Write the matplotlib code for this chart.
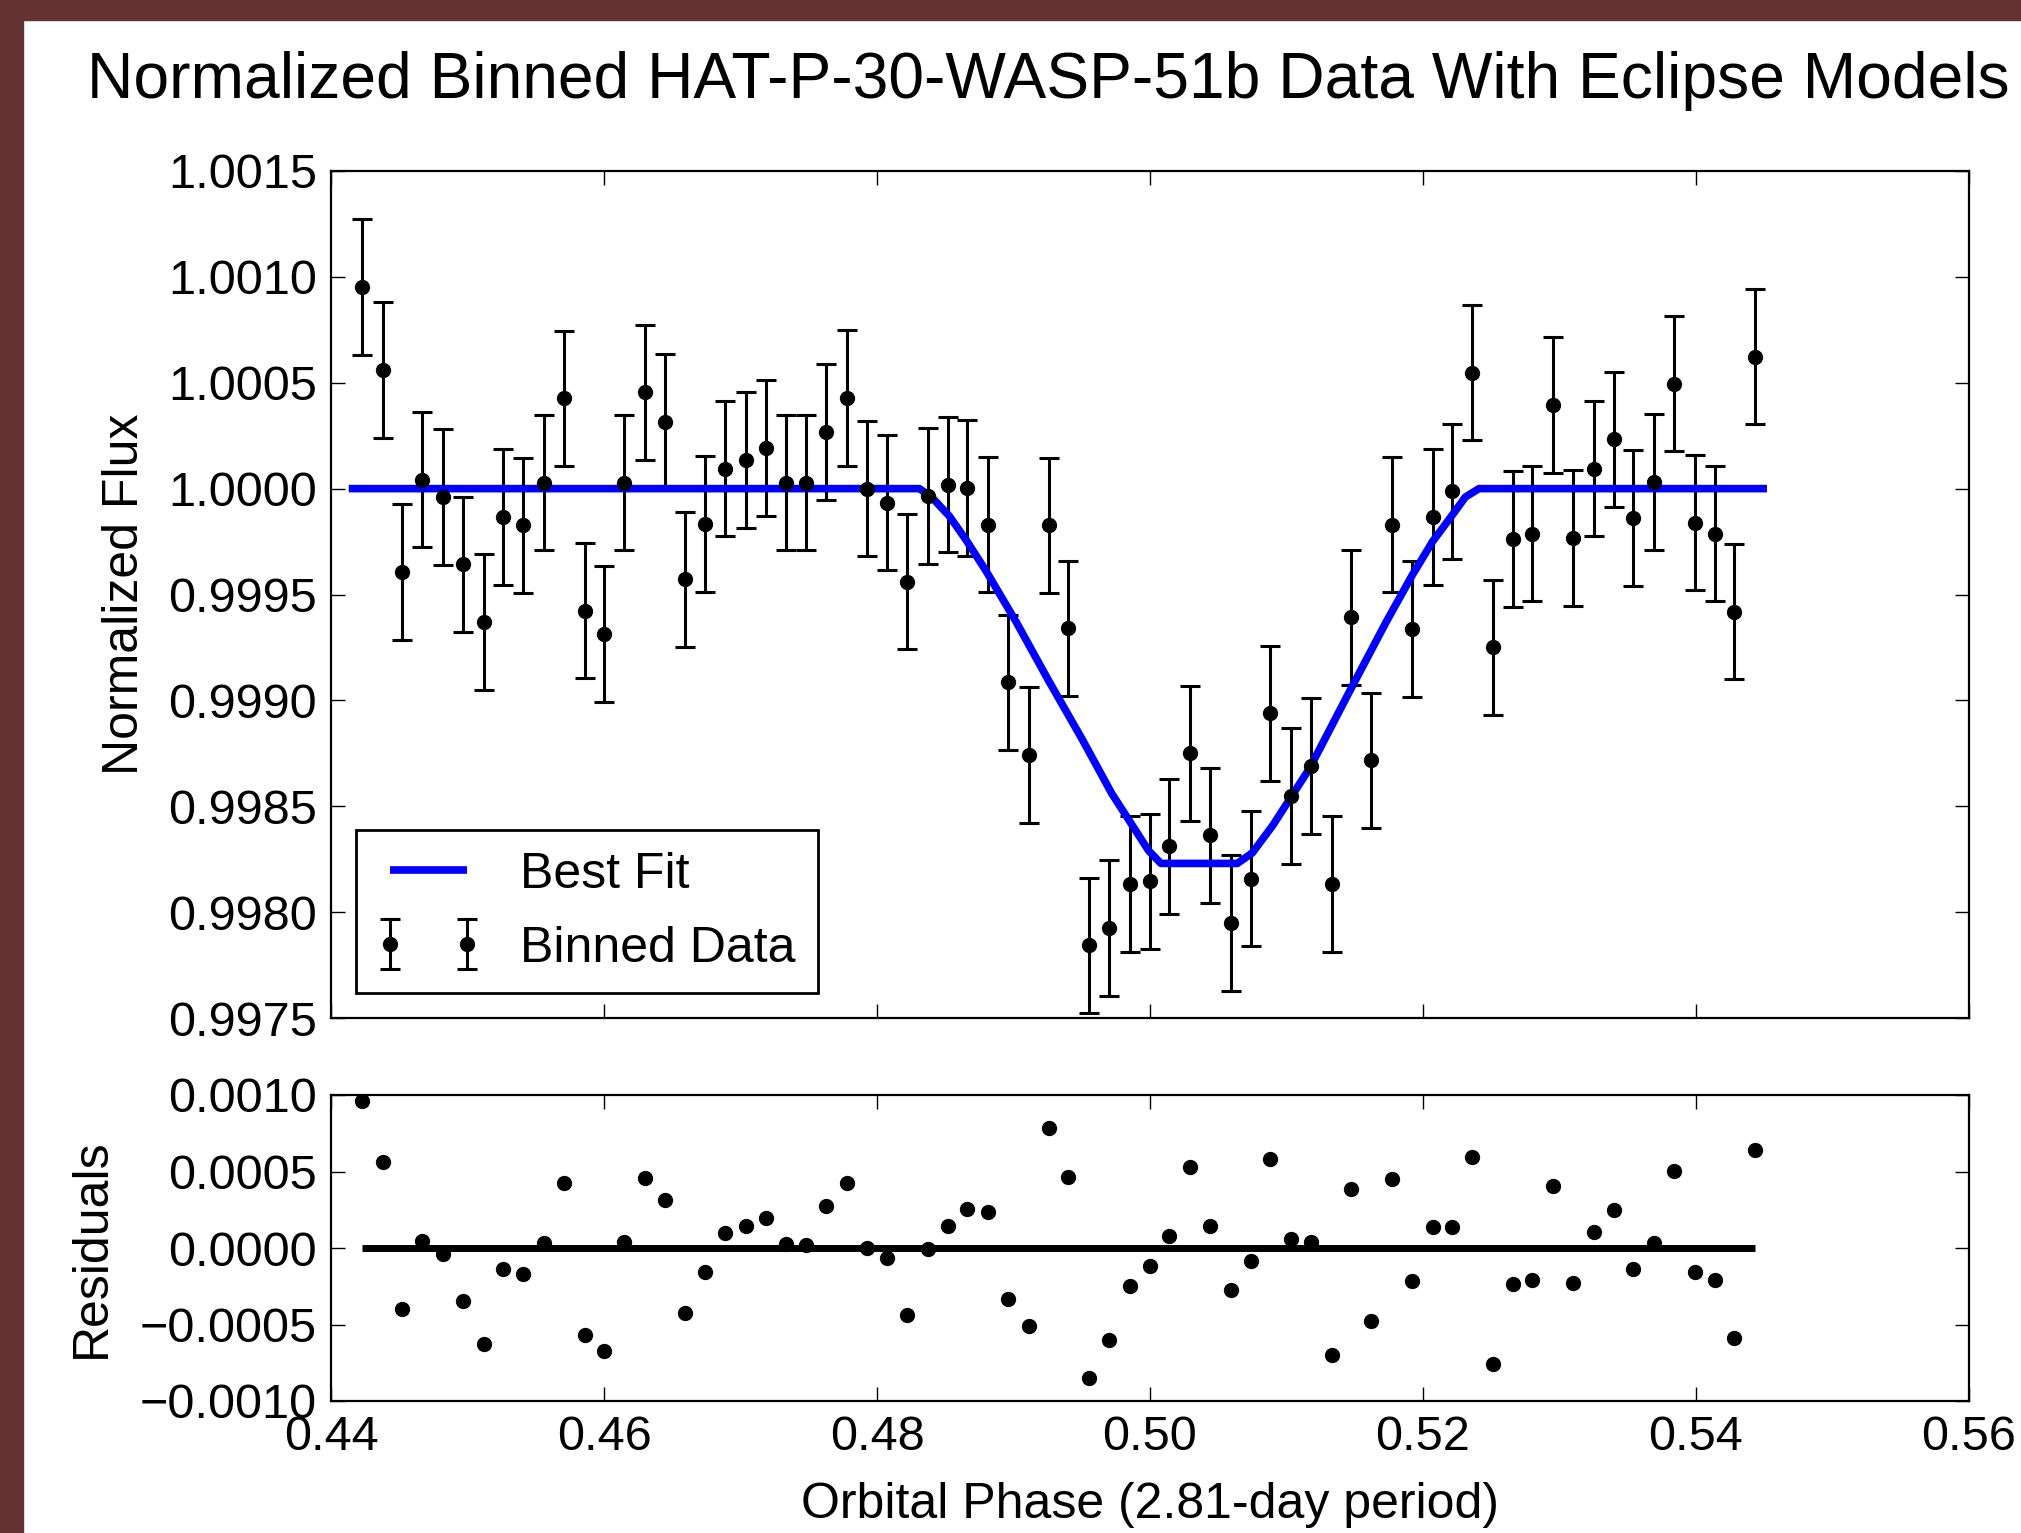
import matplotlib
matplotlib.use("Agg")
import matplotlib.pyplot as plt
from matplotlib.patches import Rectangle
from matplotlib.ticker import FuncFormatter, MultipleLocator
from matplotlib.legend_handler import HandlerErrorbar, HandlerLine2D


# binned phase centres
phase = [0.4423, 0.4438, 0.4452, 0.4467, 0.4482, 0.4497, 0.4512, 0.4526, 0.4541, 0.4556,
         0.4571, 0.4586, 0.4600, 0.4615, 0.4630, 0.4645, 0.4659, 0.4674, 0.4689, 0.4704,
         0.4719, 0.4733, 0.4748, 0.4763, 0.4778, 0.4793, 0.4807, 0.4822, 0.4837, 0.4852,
         0.4866, 0.4881, 0.4896, 0.4911, 0.4926, 0.4940, 0.4955, 0.4970, 0.4985, 0.5000,
         0.5014, 0.5029, 0.5044, 0.5059, 0.5074, 0.5088, 0.5103, 0.5118, 0.5133, 0.5147,
         0.5162, 0.5177, 0.5192, 0.5207, 0.5221, 0.5236, 0.5251, 0.5266, 0.5280, 0.5295,
         0.5310, 0.5325, 0.5340, 0.5354, 0.5369, 0.5384, 0.5399, 0.5414, 0.5428, 0.5443]

flux = [1.000953, 1.000559, 0.999606, 1.000043, 0.999961, 0.999642, 0.999369, 0.999866, 0.999826, 1.000028,
        1.000426, 0.999424, 0.999313, 1.000028, 1.000455, 1.000316, 0.999571, 0.999834, 1.000095, 1.000134,
        1.000193, 1.000028, 1.000028, 1.000268, 1.000429, 1.000000, 0.999934, 0.999561, 0.999964, 1.000019,
        1.000003, 0.999830, 0.999085, 0.998742, 0.999826, 0.999340, 0.997843, 0.997925, 0.998134, 0.998145,
        0.998310, 0.998750, 0.998362, 0.997948, 0.998158, 0.998939, 0.998548, 0.998690, 0.998134, 0.999392,
        0.998717, 0.999830, 0.999337, 0.999866, 0.999987, 1.000548, 0.999250, 0.999763, 0.999787, 1.000395,
        0.999766, 1.000095, 1.000232, 0.999861, 1.000032, 1.000496, 0.999839, 0.999787, 0.999419, 1.000623]

flux_err = 0.00032

residuals = [0.000961, 0.000561, -0.000396, 0.000044, -0.000041, -0.000346, -0.000628, -0.000135, -0.000172, 0.000033,
             0.000424, -0.000570, -0.000674, 0.000039, 0.000457, 0.000311, -0.000424, -0.000157, 0.000100, 0.000146,
             0.000196, 0.000026, 0.000022, 0.000272, 0.000426, 0.000000, -0.000063, -0.000435, -0.000004, 0.000141,
             0.000257, 0.000235, -0.000335, -0.000507, 0.000785, 0.000467, -0.000852, -0.000602, -0.000246, -0.000117,
             0.000078, 0.000528, 0.000143, -0.000276, -0.000085, 0.000580, 0.000061, 0.000039, -0.000700, 0.000385,
             -0.000474, 0.000450, -0.000217, 0.000139, 0.000139, 0.000593, -0.000761, -0.000235, -0.000207, 0.000402,
             -0.000228, 0.000104, 0.000250, -0.000139, 0.000030, 0.000504, -0.000157, -0.000211, -0.000585, 0.000641]

# best-fit eclipse model
model_phase = [0.4413, 0.4831, 0.4840, 0.4853, 0.4865, 0.4880, 0.4902, 0.4926, 0.4950, 0.4972,
               0.4987, 0.4999, 0.5008, 0.5064, 0.5075, 0.5090, 0.5117, 0.5146, 0.5173, 0.5192,
               0.5207, 0.5222, 0.5231, 0.5241, 0.5452]
model_flux = [1.0, 1.0, 0.99996, 0.99987, 0.99976, 0.99961, 0.99937, 0.99909, 0.99882, 0.99856,
              0.99841, 0.99829, 0.99823, 0.99823, 0.99828, 0.99841, 0.99868, 0.99904, 0.99937, 0.99959,
              0.99975, 0.99988, 0.99996, 1.0, 1.0]

x_ticks = [0.44, 0.46, 0.48, 0.50, 0.52, 0.54, 0.56]

plt.rcParams["font.family"] = ["Liberation Sans", "DejaVu Sans"]

W, H = 2021, 1533
fig = plt.figure(figsize=(W / 100, H / 100), dpi=100, facecolor="white")

# dark red frame left/top from the original screenshot
border = "#653233"
fig.add_artist(Rectangle((0, 0), 23 / W, 1, transform=fig.transFigure, color=border, zorder=0))
fig.add_artist(Rectangle((0, 1 - 20 / H), 1, 20 / H, transform=fig.transFigure, color=border, zorder=0))

ax1 = fig.add_axes([331 / W, 1 - 1018 / H, 1638 / W, 847 / H])
ax2 = fig.add_axes([331 / W, 1 - 1401 / H, 1638 / W, 306 / H])


def fmt4(v, pos):
    if abs(v) < 1e-9:
        v = 0.0
    return f"{v:.4f}".replace("-", "\u2212")


eb = ax1.errorbar(phase, flux, yerr=flux_err, fmt="o", color="black", ms=10,
                  elinewidth=2.2, capsize=7, capthick=2.2, label="Binned Data")
fit, = ax1.plot(model_phase, model_flux, color="blue", lw=5.5, label="Best Fit",
                solid_joinstyle="round", solid_capstyle="butt")
ax1.set_xlim(0.44, 0.56)
ax1.set_ylim(0.9975, 1.0015)
ax1.yaxis.set_major_locator(MultipleLocator(0.0005))
ax1.yaxis.set_major_formatter(FuncFormatter(fmt4))
ax1.set_xticks(x_ticks)
ax1.set_xticklabels([])
ax1.set_ylabel("Normalized Flux", fontsize=36)
ax1.yaxis.set_label_coords(-0.112, 0.5)

leg = ax1.legend(loc="lower left", fontsize=36, fancybox=False, framealpha=1,
                 edgecolor="black", borderpad=0.43, labelspacing=0.56, handlelength=2.04,
                 handletextpad=0.82, borderaxespad=0.5, numpoints=2,
                 handler_map={eb: HandlerErrorbar(marker_pad=0.25),
                              fit: HandlerLine2D(marker_pad=0.25)})
leg.get_frame().set_linewidth(2)

ax2.plot(phase, residuals, "o", color="black", ms=10)
ax2.hlines(0, phase[0], phase[-1], color="black", lw=5)
ax2.set_xlim(0.44, 0.56)
ax2.set_ylim(-0.001, 0.001)
ax2.yaxis.set_major_locator(MultipleLocator(0.0005))
ax2.yaxis.set_major_formatter(FuncFormatter(fmt4))
ax2.set_xticks(x_ticks)
ax2.xaxis.set_major_formatter(FuncFormatter(lambda v, p: f"{v:.2f}"))
ax2.set_ylabel("Residuals", fontsize=36)
ax2.yaxis.set_label_coords(-0.132, 0.5)
ax2.set_xlabel("Orbital Phase (2.81-day period)", fontsize=36)
ax2.xaxis.set_label_coords(0.5, -0.265)

for ax in (ax1, ax2):
    ax.tick_params(direction="in", top=True, right=True, length=10, width=1,
                   labelsize=35, pad=10)
    ax.tick_params(axis="x", pad=10)
    for s in ax.spines.values():
        s.set_linewidth(1.6)

fig.text(1048 / W, 1 - 98 / H, "Normalized Binned HAT-P-30-WASP-51b Data With Eclipse Models",
         ha="center", va="baseline", fontsize=46.2)

fig.savefig("out.png", dpi=100, facecolor=fig.get_facecolor())
